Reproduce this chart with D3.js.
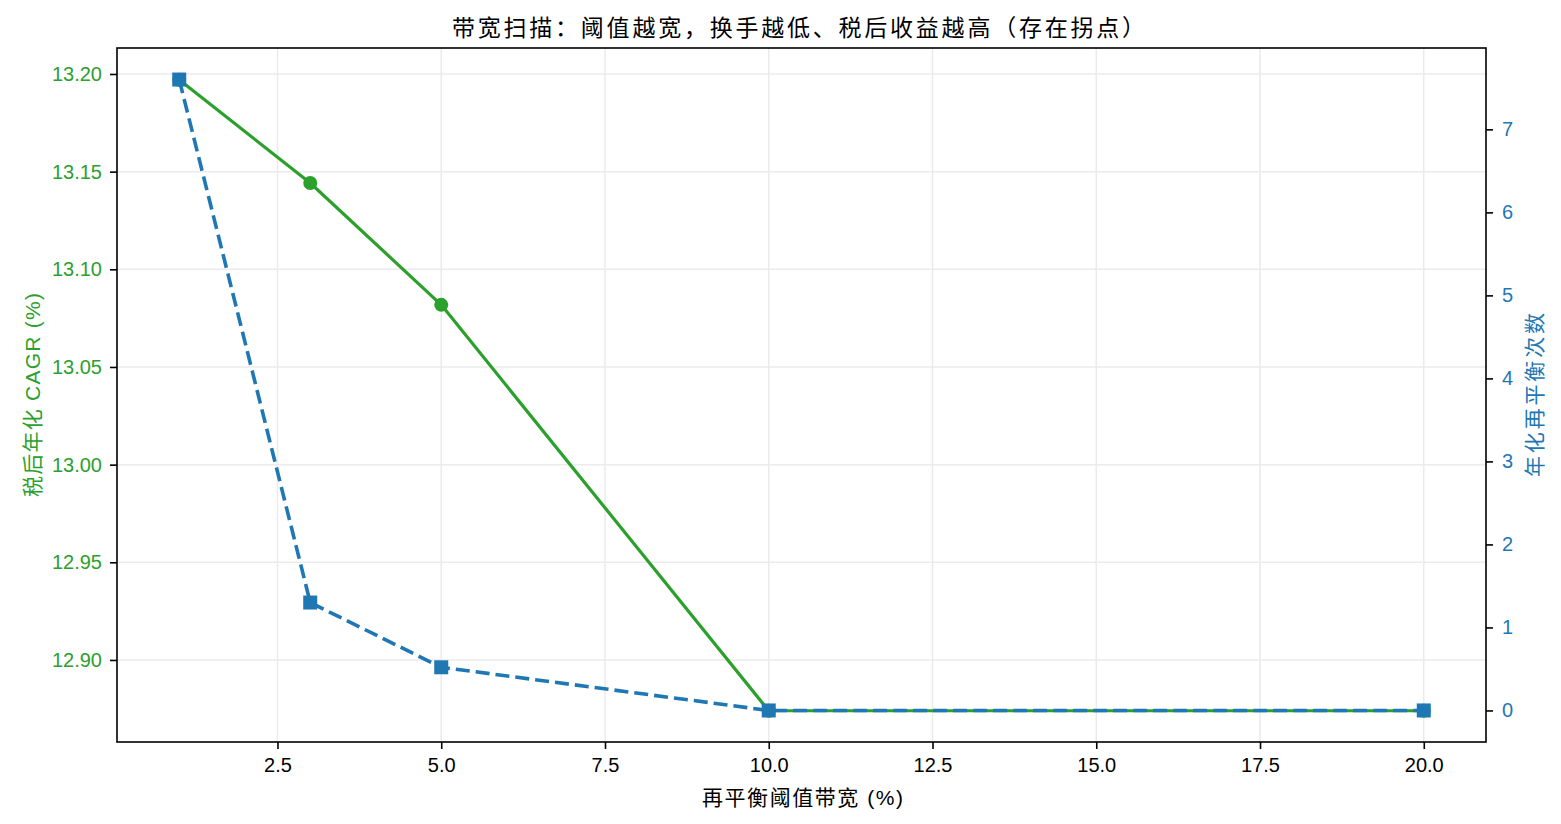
<!DOCTYPE html>
<html><head><meta charset="utf-8">
<script src="https://cdn.jsdelivr.net/npm/d3@7"></script>
<style>body{margin:0;background:#fff}svg text{font-family:"Liberation Sans","Noto Sans CJK SC",sans-serif}</style>
</head><body><svg id="c" width="1561" height="824"></svg>
<script>
const bands = [1, 3, 5, 10, 20];
const cagr = [13.197, 13.1442, 13.0818, 12.874, 12.874];
const rebal = [7.60, 1.30, 0.52, 0, 0];
const xTicks = [2.5, 5.0, 7.5, 10.0, 12.5, 15.0, 17.5, 20.0];
const yLeftTicks = [12.90, 12.95, 13.00, 13.05, 13.10, 13.15, 13.20];
const yRightTicks = [0, 1, 2, 3, 4, 5, 6, 7];
const title = "带宽扫描：阈值越宽，换手越低、税后收益越高（存在拐点）";
const xLabel = "再平衡阈值带宽 (%)";
const yLeftLabel = "税后年化 CAGR (%)";
const yRightLabel = "年化再平衡次数";

const L = 117, R = 1486, T = 48, B = 742;
const green = "#2ca02c", blue = "#1f77b4";
const svg = d3.select("#c");
const x = d3.scaleLinear().domain([0.05, 20.95]).range([L, R]);
const yL = d3.scaleLinear().domain([12.858, 13.2133]).range([B, T]);
const yR = d3.scaleLinear().domain([-0.38, 7.98]).range([B, T]);

// grid
const g = svg.append("g");
g.selectAll(".gx").data(xTicks).enter().append("line")
  .attr("x1", d => x(d)).attr("x2", d => x(d)).attr("y1", T).attr("y2", B)
  .attr("stroke", "#ebebeb").attr("stroke-width", 1.5);
g.selectAll(".gy").data(yLeftTicks).enter().append("line")
  .attr("x1", L).attr("x2", R).attr("y1", d => yL(d)).attr("y2", d => yL(d))
  .attr("stroke", "#ebebeb").attr("stroke-width", 1.5);

// axes
const xAxis = svg.append("g").attr("transform", `translate(0,${B})`)
  .call(d3.axisBottom(x).tickValues(xTicks).tickFormat(d3.format(".1f")).tickSize(7).tickPadding(9));
const lAxis = svg.append("g").attr("transform", `translate(${L},0)`)
  .call(d3.axisLeft(yL).tickValues(yLeftTicks).tickFormat(d3.format(".2f")).tickSize(7).tickPadding(8));
const rAxis = svg.append("g").attr("transform", `translate(${R},0)`)
  .call(d3.axisRight(yR).tickValues(yRightTicks).tickFormat(d3.format("d")).tickSize(7).tickPadding(9));
[xAxis, lAxis, rAxis].forEach(a => { a.select(".domain").remove(); a.selectAll("text").attr("font-size", 20); a.selectAll(".tick line").attr("stroke-width", 1.6).attr("stroke", "#000"); });
xAxis.selectAll("text").attr("fill", "#000");
lAxis.selectAll("text").attr("fill", green);
rAxis.selectAll("text").attr("fill", blue);

// green line
const lineL = d3.line().x((d, i) => x(bands[i])).y(d => yL(d));
svg.append("path").datum(cagr).attr("d", lineL).attr("fill", "none")
  .attr("stroke", green).attr("stroke-width", 3.2).attr("stroke-linejoin", "round");
svg.selectAll(".pc").data(cagr).enter().append("circle")
  .attr("cx", (d, i) => x(bands[i])).attr("cy", d => yL(d)).attr("r", 7).attr("fill", green);

// blue line
const lineR = d3.line().x((d, i) => x(bands[i])).y(d => yR(d));
svg.append("path").datum(rebal).attr("d", lineR).attr("fill", "none")
  .attr("stroke", blue).attr("stroke-width", 3.6).attr("stroke-dasharray", "14,6");
svg.selectAll(".ps").data(rebal).enter().append("rect")
  .attr("x", (d, i) => x(bands[i]) - 7).attr("y", d => yR(d) - 7)
  .attr("width", 14).attr("height", 14).attr("fill", blue);

// frame
svg.append("rect").attr("x", L).attr("y", T).attr("width", R - L).attr("height", B - T)
  .attr("fill", "none").attr("stroke", "#000").attr("stroke-width", 1.6);

// labels
svg.append("text").attr("x", 452).attr("y", 36).attr("textLength", 693).attr("lengthAdjust", "spacing")
  .attr("font-size", 23).attr("fill", "#000").text(title);
svg.append("text").attr("x", 702).attr("y", 805).attr("textLength", 201).attr("lengthAdjust", "spacing")
  .attr("font-size", 21).attr("fill", "#000").text(xLabel);
svg.append("text").attr("transform", `translate(40,497) rotate(-90)`).attr("textLength", 204).attr("lengthAdjust", "spacing")
  .attr("font-size", 21).attr("fill", green).text(yLeftLabel);
svg.append("text").attr("transform", `translate(1542,477) rotate(-90)`).attr("textLength", 164).attr("lengthAdjust", "spacing")
  .attr("font-size", 21).attr("fill", blue).text(yRightLabel);
</script></body></html>
